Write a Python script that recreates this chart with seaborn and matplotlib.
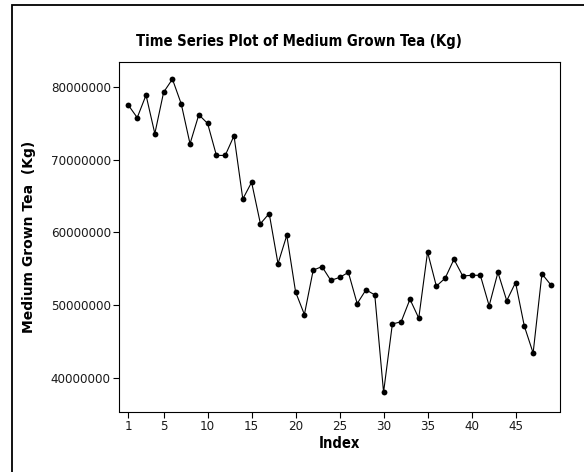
import matplotlib
matplotlib.use("Agg")
import matplotlib.pyplot as plt
from matplotlib import font_manager
from matplotlib.patches import Rectangle
import seaborn as sns
import pandas as pd

# Monthly production of medium grown tea (kg), in index order
index = list(range(1, 50))
tea_kg = [
    77.5e6, 75.8e6, 78.9e6, 73.6e6, 79.3e6, 81.1e6, 77.7e6, 72.2e6, 76.2e6, 75.0e6,
    70.6e6, 70.6e6, 73.3e6, 64.6e6, 66.9e6, 61.2e6, 62.6e6, 55.7e6, 59.6e6, 51.8e6,
    48.7e6, 54.8e6, 55.3e6, 53.4e6, 53.8e6, 54.5e6, 50.2e6, 52.1e6, 51.4e6, 38.0e6,
    47.4e6, 47.7e6, 50.8e6, 48.2e6, 57.3e6, 52.6e6, 53.7e6, 56.3e6, 54.0e6, 54.1e6,
    54.1e6, 49.9e6, 54.5e6, 50.6e6, 53.1e6, 47.1e6, 43.4e6, 54.3e6, 52.8e6,
]
x_ticks = [1, 5, 10, 15, 20, 25, 30, 35, 40, 45]
y_ticks = [40000000, 50000000, 60000000, 70000000, 80000000]

df = pd.DataFrame({"Index": index, "Tea": tea_kg})

sns.set_theme(style="white")

installed = {f.name for f in font_manager.fontManager.ttflist}
narrow = "Liberation Sans Narrow" if "Liberation Sans Narrow" in installed else "DejaVu Sans"
plt.rcParams["font.family"] = ["DejaVu Sans"]
plt.rcParams["text.color"] = "black"
plt.rcParams["axes.labelcolor"] = "black"

fig = plt.figure(figsize=(5.84, 4.72), dpi=100)
ax = fig.add_axes([119.2 / 584, 1 - 411.5 / 472, (560.4 - 119.2) / 584, (411.5 - 61.7) / 472])

sns.lineplot(data=df, x="Index", y="Tea", ax=ax, color="black", linewidth=0.8,
             marker="o", markersize=4.2, markeredgewidth=0, markerfacecolor="black")

ax.set_xlim(-0.05, 50.1)
ax.set_ylim(35.35e6, 83.5e6)
ax.set_xticks(x_ticks)
ax.set_xticklabels([str(t) for t in x_ticks], fontsize=9.5, fontstretch="condensed")
ax.set_yticks(y_ticks)
ax.set_yticklabels([str(t) for t in y_ticks], fontsize=11 if narrow != "DejaVu Sans" else 9.5,
                   family=narrow, fontstretch="condensed")
ax.tick_params(axis="both", direction="out", length=4.5, width=0.8, color="black",
               bottom=True, left=True, pad=1.5, labelcolor="#1a1a1a")

for s in ax.spines.values():
    s.set_color("black")
    s.set_linewidth(0.8)

ax.set_xlabel("Index", fontsize=10.5, fontweight="bold", fontstretch="condensed", labelpad=2)
ax.set_ylabel("Medium Grown Tea  (Kg)", fontsize=10, fontweight="bold")
ax.yaxis.set_label_coords(36.5 / 584, 0.5 * (2 - 411.5 / 472 - 61.7 / 472),
                          transform=fig.transFigure)

fig.text(299 / 584, 1 - 41.7 / 472, "Time Series Plot of Medium Grown Tea (Kg)",
         ha="center", va="center", fontsize=10.6, fontweight="bold", fontstretch="condensed")

# Outer frame around the graph window
fig.patches.append(Rectangle((12.3 / 584, -0.1), 1.2, 1.1 - 5.3 / 472,
                             transform=fig.transFigure, fill=False,
                             edgecolor="black", linewidth=1.3))

fig.savefig("out.png", dpi=100)
